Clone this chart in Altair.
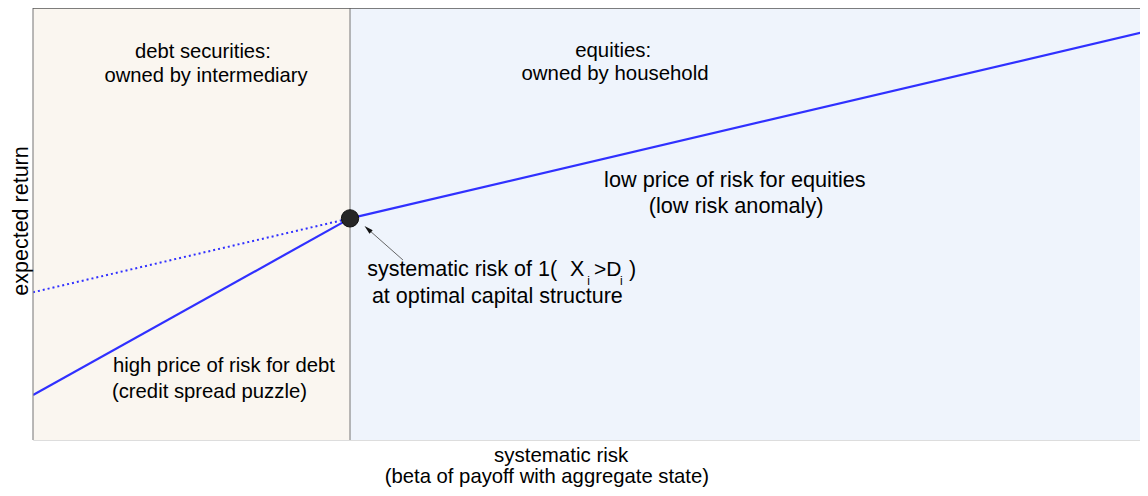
import altair as alt
import pandas as pd

# Regions (systematic risk units)
region_names = ["debt", "equity"]
region_x0 = [0.0, 1.0]
region_x1 = [1.0, 3.52]
region_colors = ["#FAF6F0", "#EFF4FC"]

# Lines
debt_x = [0.0, 1.0]
debt_y = [1.04, 5.13]
equity_x = [1.0, 3.52]
equity_y = [5.13, 9.47]
extension_x = [0.0, 1.0]
extension_y = [3.42, 5.13]

# Kink point
kink_x = [1.0]
kink_y = [5.13]

X_MAX = 3.492
Y_MAX = 10.0

FONT = "Liberation Sans"

xs = alt.Scale(domain=[0, X_MAX], nice=False, zero=False)
ys = alt.Scale(domain=[0, Y_MAX], nice=False, zero=False)

def X(field="x"):
    return alt.X(f"{field}:Q", scale=xs, axis=None)

def Y(field="y"):
    return alt.Y(f"{field}:Q", scale=ys, axis=None)

regions = pd.DataFrame({"name": region_names, "x0": region_x0, "x1": region_x1,
                        "y0": [0, 0], "y1": [Y_MAX, Y_MAX], "c": region_colors})
bg = alt.Chart(regions).mark_rect(clip=True).encode(
    x=X("x0"), x2="x1", y=Y("y0"), y2="y1",
    color=alt.Color("c:N", scale=None))

vrules = alt.Chart(pd.DataFrame({"x": [0.0, 1.0]})).mark_rule(
    color="#8a8a8a", strokeWidth=1.2).encode(x=X(), y=alt.value(0), y2=alt.value(432))
toprule = alt.Chart(pd.DataFrame({"y": [Y_MAX]})).mark_rule(
    color="#555555", strokeWidth=1.6).encode(y=Y(), x=alt.value(0), x2=alt.value(1107))

debt = alt.Chart(pd.DataFrame({"x": debt_x, "y": debt_y})).mark_line(
    color="#3030FF", strokeWidth=2.2, clip=True).encode(x=X(), y=Y())
equity = alt.Chart(pd.DataFrame({"x": equity_x, "y": equity_y})).mark_line(
    color="#3030FF", strokeWidth=2.2, clip=True).encode(x=X(), y=Y())
ext = alt.Chart(pd.DataFrame({"x": extension_x, "y": extension_y})).mark_line(
    color="#3030FF", strokeWidth=2, strokeDash=[2, 3], clip=True).encode(x=X(), y=Y())

dot = alt.Chart(pd.DataFrame({"x": kink_x, "y": kink_y})).mark_point(
    filled=True, size=300, color="#262626", stroke="#111111", strokeWidth=1, opacity=1
).encode(x=X(), y=Y())

# Arrow annotation
arrow_line = alt.Chart(pd.DataFrame({"x": [1.167], "y": [4.167], "x2": [1.060], "y2": [4.86]})).mark_rule(
    color="#555555", strokeWidth=0.9).encode(x=X(), y=Y(), x2="x2", y2="y2")
arrow_head = alt.Chart(pd.DataFrame({"x": [1.058], "y": [4.87]})).mark_point(
    shape="M0,-1L0.45,0.7L-0.45,0.7Z", filled=True, color="#111111", size=110, angle=312, opacity=1
).encode(x=X(), y=Y())

labels = pd.DataFrame([
    # text, x, y, align, size
    ["debt securities:", 0.536, 8.843, "center", 20.2],
    ["owned by intermediary", 0.546, 8.287, "center", 20.2],
    ["equities:", 1.830, 8.866, "center", 20.4],
    ["owned by household", 1.836, 8.333, "center", 20.4],
    ["low price of risk for equities", 2.214, 5.856, "center", 21.7],
    ["(low risk anomaly)", 2.218, 5.255, "center", 21.7],
    ["high price of risk for debt", 0.252, 1.574, "left", 20.3],
    ["(credit spread puzzle)", 0.249, 0.972, "left", 20.3],
    ["systematic risk of 1(", 1.054, 3.796, "left", 21.5],
    ["X", 1.694, 3.796, "left", 21.5],
    ["i", 1.748, 3.588, "left", 12],
    [">D", 1.770, 3.796, "left", 21.0],
    ["i", 1.852, 3.588, "left", 12],
    [")", 1.880, 3.796, "left", 21.5],
    ["at optimal capital structure", 1.069, 3.171, "left", 21.5],
    ["systematic risk", 1.666, -0.509, "center", 20.5],
    ["(beta of payoff with aggregate state)", 1.621, -0.995, "center", 20.3],
], columns=["text", "x", "y", "align", "size"])

def text_layer(df, align, size):
    return alt.Chart(df).mark_text(
        align=align, baseline="alphabetic", font=FONT, fontSize=size, color="#000000"
    ).encode(x=X(), y=Y(), text="text:N")

text_layers = []
for (al, sz), g in labels.groupby(["align", "size"]):
    text_layers.append(text_layer(g, al, sz))

ytitle = alt.Chart(pd.DataFrame({"text": ["expected return"], "x": [-0.016], "y": [5.07]})).mark_text(
    align="center", baseline="alphabetic", angle=270, font=FONT, fontSize=21.5, color="#000000"
).encode(x=X(), y=Y(), text="text:N")

chart = alt.layer(bg, ext, debt, equity, vrules, toprule, arrow_line, arrow_head, dot,
                  *text_layers, ytitle).properties(
    width=1107, height=432,
    padding={"left": 25, "top": 0, "right": 0, "bottom": 48},
    autosize=alt.AutoSizeParams(type="none"),
).configure_view(stroke=None).configure(background="#FFFFFF")

chart.save("out.html", embed_options={"renderer": "svg", "actions": False})
